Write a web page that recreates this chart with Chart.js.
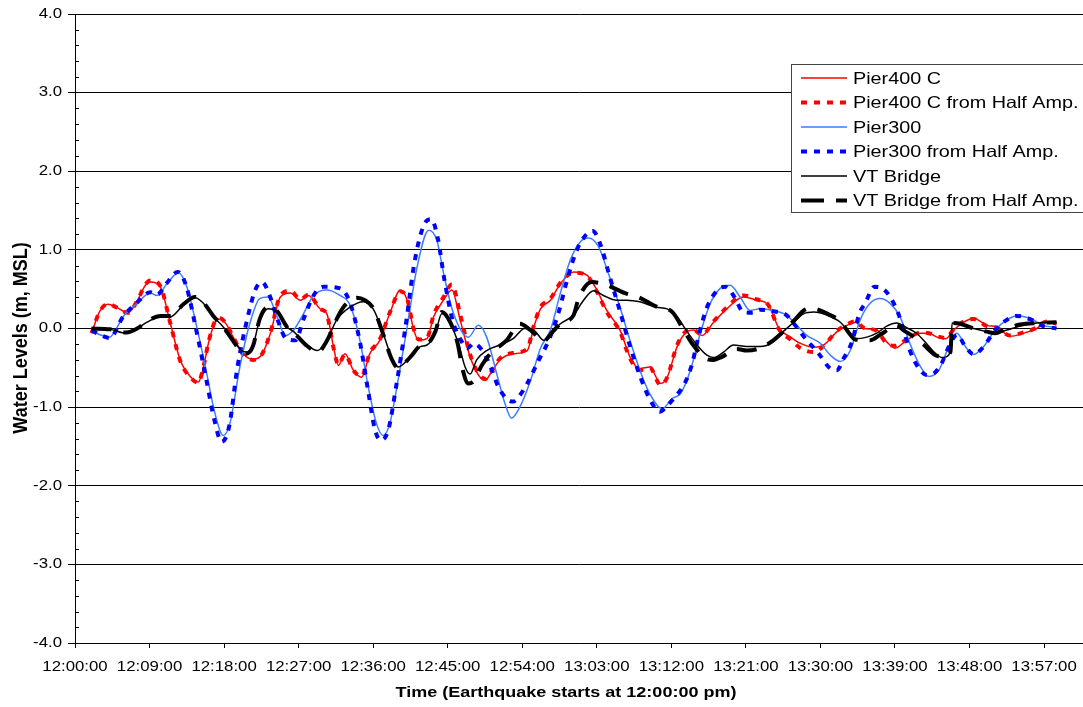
<!DOCTYPE html>
<html><head><meta charset="utf-8">
<script src="https://cdn.jsdelivr.net/npm/chart.js@4.4.1/dist/chart.umd.min.js"></script>
<style>html,body{margin:0;padding:0;background:#fff}#wrap{width:1083px;height:707px;position:relative}</style>
</head><body><div id="wrap"><canvas id="c" width="1083" height="707"></canvas></div>
<script>
// ---- data (minutes after 12:00:00, water level m MSL) ----
const pier400Time = [2.0,3.0,4.0,5.0,6.4, 7.5,8.5,9.1,10.3,11.5, 12.7,14.0,14.9,15.3,16.2, 16.9,17.5,18.3,19.1,20.3, 21.5,22.5,23.6,24.8,26.0, 27.2,28.2,29.6,30.4,31.2, 31.8,32.6,33.6,34.6,35.6, 36.8,38.0,39.3,40.1,40.9, 41.5,42.5,43.3,44.5,45.5, 46.5,47.7,48.7,49.5,50.3, 51.3,52.9,54.6,55.4,56.2, 57.4,58.6,60.2,61.8,63.0, 64.2,65.8,67.0,68.2,69.4, 70.7,71.5,72.7,73.9,74.7, 75.7,77.1,78.7,80.7,82.3, 83.7,85.0,86.4,87.6,89.2, 90.4,92.0,93.2,94.2,95.2, 96.8,98.0,99.0,100.4,102.1, 103.1,104.1,105.1,106.1,107.3, 108.5,110.1,111.3,112.9,114.5, 116.1,117.3,118.5];
const pier400Level = [-0.06,0.22,0.31,0.27,0.20, 0.35,0.55,0.59,0.53,0.07, -0.40,-0.62,-0.68,-0.58,-0.15, 0.08,0.12,0.05,-0.11,-0.32, -0.39,-0.34,-0.06,0.40,0.45, 0.36,0.42,0.25,0.19,-0.23, -0.47,-0.32,-0.53,-0.62,-0.32, -0.15,0.19,0.49,0.36,-0.02, -0.15,-0.13,0.15,0.36,0.49, 0.11,-0.36,-0.59,-0.66,-0.55, -0.40,-0.32,-0.28,0.02,0.25, 0.36,0.57,0.72,0.68,0.49, 0.23,-0.02,-0.36,-0.51,-0.49, -0.70,-0.62,-0.23,-0.04,-0.02, -0.09,0.08,0.25,0.40,0.36, 0.30,0.00,-0.11,-0.19,-0.24, -0.21,-0.04,0.04,0.08,0.00, -0.02,-0.17,-0.25,-0.15,-0.06, -0.06,-0.11,-0.13,-0.02,0.08, 0.13,0.04,0.02,-0.10,-0.06, 0.00,0.08,0.05];
const pier400HalfLevel = [-0.06,0.22,0.31,0.27,0.20, 0.35,0.56,0.61,0.54,0.07, -0.41,-0.63,-0.69,-0.58,-0.14, 0.09,0.13,0.05,-0.11,-0.33, -0.40,-0.34,-0.05,0.42,0.48, 0.37,0.43,0.25,0.18,-0.24, -0.46,-0.33,-0.53,-0.61,-0.31, -0.14,0.20,0.47,0.38,-0.01, -0.14,-0.12,0.17,0.40,0.56, 0.18,-0.33,-0.57,-0.64,-0.54, -0.38,-0.31,-0.26,0.04,0.27, 0.38,0.58,0.71,0.67,0.47, 0.21,-0.04,-0.38,-0.53,-0.50, -0.72,-0.62,-0.21,-0.03,-0.02, -0.08,0.09,0.27,0.42,0.37, 0.30,-0.01,-0.14,-0.25,-0.30, -0.22,-0.03,0.05,0.09,0.01, -0.03,-0.19,-0.22,-0.14,-0.05, -0.06,-0.10,-0.12,-0.01,0.09, 0.12,0.03,0.01,-0.09,-0.05, 0.01,0.09,0.06];

const pier300Time = [2.0,3.0,4.2,5.0,5.8, 7.5,9.1,9.9,11.1,12.5, 13.5,14.7,15.9,16.9,17.9, 18.7,19.9,21.1,22.3,23.3, 24.4,25.4,26.4,27.6,28.8, 30.4,32.0,33.2,34.4,35.4, 36.4,37.2,38.0,39.0,40.1, 41.3,42.7,43.7,44.5,45.7, 47.5,48.7,49.7,50.9,51.9, 52.7,53.7,55.0,56.2,57.4, 58.6,59.8,61.0,62.0,63.2, 64.4,65.8,67.0,68.2,69.4, 70.9,72.1,73.1,74.3,75.5, 76.7,77.9,79.1,80.3,81.5, 82.7,84.3,85.9,86.8,88.4, 90.0,91.2,92.4,93.6,94.8, 96.0,97.2,98.4,99.6,100.8, 102.1,103.1,104.3,105.5,106.5, 107.5,108.5,109.7,111.1,112.5, 113.7,115.3,116.9,118.5];
const pier300Level = [-0.02,-0.08,-0.11,0.00,0.15, 0.32,0.45,0.42,0.57,0.71, 0.53,0.02,-0.57,-1.08,-1.36, -1.21,-0.49,0.06,0.38,0.40, 0.15,-0.09,-0.02,0.19,0.42, 0.49,0.42,0.30,-0.15,-0.74, -1.21,-1.36,-1.21,-0.66,0.02, 0.78,1.25,1.12,0.70,0.19, -0.11,0.04,-0.11,-0.57,-0.95, -1.14,-1.00,-0.66,-0.25,-0.02, 0.45,0.87,1.10,1.15,1.04, 0.70,0.27,-0.15,-0.53,-0.83, -1.02,-0.89,-0.83,-0.53,-0.06, 0.32,0.51,0.55,0.40,0.23, 0.25,0.23,0.17,0.08,-0.09, -0.19,-0.34,-0.42,-0.28,0.11, 0.32,0.38,0.32,0.15,-0.19, -0.49,-0.61,-0.53,-0.23,-0.06, -0.23,-0.33,-0.23,-0.02,0.11, 0.16,0.13,0.04,0.01];

const pier300HalfTime = [2.0,3.0,4.2,5.8,7.5, 9.1,9.9,11.1,12.4,13.4, 14.6,15.8,16.8,17.7,18.6, 19.6,20.8,21.8,22.6,23.5, 24.5,25.5,26.6,27.6,28.8, 30.0,32.0,33.2,34.4,35.4, 36.2,36.9,37.8,38.8,39.9, 41.0,42.1,43.0,43.8,44.6, 45.6,46.6,47.4,48.1,49.3, 50.3,51.1,52.2,52.9,53.7, 54.6,56.0,57.2,58.4,59.5, 60.6,61.6,62.5,63.5,64.5, 65.8,67.0,68.2,69.5,70.6, 71.5,72.3,73.7,74.5,75.4, 76.3,77.7,78.5,79.5,80.7, 81.8,82.7,84.3,85.9,86.8, 88.2,89.8,91.2,92.0,92.8, 93.8,94.7,95.4,96.5,97.3, 98.3,99.4,100.8,101.9,102.8, 103.7,104.6,105.5,106.5,107.5, 108.5,109.7,111.1,112.5,113.7, 115.3,116.9,118.5];
const pier300HalfLevel = [-0.02,-0.08,-0.12,0.15,0.33, 0.46,0.43,0.58,0.72,0.55, 0.00,-0.62,-1.15,-1.44,-1.25, -0.50,0.12,0.50,0.59,0.42, 0.10,-0.13,-0.15,0.12,0.42, 0.53,0.51,0.33,-0.17,-0.80, -1.28,-1.42,-1.30,-0.72,0.02, 0.85,1.31,1.39,1.15,0.62, 0.10,-0.15,-0.25,-0.19,-0.30, -0.52,-0.74,-0.90,-0.93,-0.85, -0.70,-0.40,-0.15,0.21,0.65, 1.00,1.18,1.24,1.05,0.68, 0.22,-0.22,-0.60,-0.92,-1.06, -0.98,-0.89,-0.68,-0.45,-0.05, 0.27,0.50,0.53,0.42,0.21, 0.20,0.24,0.22,0.17,0.06, -0.13,-0.32,-0.51,-0.53,-0.38, -0.17,0.19,0.32,0.53,0.52, 0.42,0.19,-0.28,-0.51,-0.59, -0.57,-0.45,-0.23,-0.08,-0.23, -0.33,-0.23,-0.02,0.11,0.16, 0.12,0.03,0.00];

const vtTime = [2.0,4.2,6.2,7.5,8.7, 10.3,11.5,13.1,14.5,15.5, 16.7,17.9,19.1,20.1,20.7, 21.5,22.3,23.3,24.4,25.6, 26.4,28.0,29.3,30.4,31.6, 33.2,34.8,36.0,37.2,38.2, 39.0,40.5,41.7,42.5,43.5, 44.3,45.3,46.3,47.1,47.7, 48.5,49.7,51.3,52.9,54.3, 55.4,56.6,57.6,58.6,60.2, 61.4,62.6,63.8,65.4,66.6, 68.2,70.2,71.5,72.7,73.9, 75.1,76.3,77.1,78.3,79.5, 81.1,82.7,84.3,85.3,86.8, 88.0,89.2,90.8,92.4,93.4, 94.2,95.6,96.8,98.0,99.2, 100.4,101.6,102.8,103.9,104.7, 105.7,105.9,106.9,108.5,110.1, 111.1,112.5,114.1,116.1,118.5];
const vtLevel = [0.00,-0.01,-0.06,0.00,0.08, 0.15,0.15,0.30,0.39,0.32, 0.15,0.02,-0.15,-0.28,-0.30, -0.21,0.11,0.25,0.21,0.02, -0.04,-0.21,-0.28,-0.15,0.11, 0.27,0.34,0.25,-0.06,-0.36, -0.49,-0.36,-0.23,-0.21,-0.06, 0.19,0.06,-0.19,-0.49,-0.58, -0.40,-0.28,-0.21,-0.13,0.00, -0.02,-0.15,-0.05,0.06,0.17, 0.36,0.48,0.42,0.36,0.36, 0.34,0.27,0.25,0.15,-0.04, -0.21,-0.34,-0.37,-0.30,-0.21, -0.23,-0.23,-0.17,-0.06,0.08, 0.19,0.21,0.17,0.08,-0.04, -0.13,-0.11,-0.06,0.03,0.07, 0.01,-0.06,-0.19,-0.32,-0.37, -0.30,0.07,0.05,0.00,-0.04, -0.06,-0.02,0.03,0.07,0.08];

const vtHalfTime = [2.0,4.2,6.2,7.5,8.7, 10.3,11.5,13.1,14.5,15.5, 16.7,17.9,19.1,20.1,20.7, 21.5,22.3,23.3,24.4,25.6, 26.4,28.0,29.3,30.4,31.6, 32.4,34.0,35.0,36.0,37.2, 38.2,39.0,40.5,41.7,42.5, 43.5,44.3,45.3,46.2,46.8, 47.5,48.2,49.1,50.5,51.3, 52.1,53.7,55.0,56.6,57.6, 58.6,60.2,60.8,62.4,64.0, 66.4,68.0,70.4,71.5,72.2, 73.6,74.5,76.3,77.1,78.1, 79.9,81.1,82.7,84.3,85.5, 86.8,88.0,88.8,90.8,92.4, 93.4,94.2,96.0,97.2,98.4, 99.2,100.0,101.2,102.3,103.9, 104.7,105.7,105.9,106.9,108.5, 110.1,111.1,112.5,114.1,116.1, 118.5];
const vtHalfLevel = [0.00,-0.01,-0.05,0.00,0.09, 0.16,0.16,0.31,0.40,0.33, 0.16,0.02,-0.16,-0.30,-0.32, -0.22,0.12,0.27,0.22,0.02, -0.05,-0.22,-0.30,-0.16,0.12, 0.27,0.39,0.36,0.26,-0.07, -0.38,-0.50,-0.36,-0.22,-0.20, -0.04,0.21,0.08,-0.19,-0.52, -0.70,-0.66,-0.47,-0.28,-0.22, -0.15,0.06,-0.02,-0.16,-0.05, 0.06,0.17,0.38,0.59,0.56, 0.45,0.40,0.27,0.25,0.20, -0.04,-0.19,-0.39,-0.40,-0.36, -0.26,-0.28,-0.25,-0.15,-0.04, 0.10,0.23,0.26,0.19,0.09, -0.05,-0.14,-0.15,-0.08,0.00, 0.04,-0.02,-0.10,-0.19,-0.34, -0.36,-0.30,0.07,0.06,0.00, -0.04,-0.06,0.00,0.05,0.07, 0.08];

const seriesNames = ['Pier400 C','Pier400 C from Half Amp.','Pier300','Pier300 from Half Amp.','VT Bridge','VT Bridge from Half Amp.'];
const xTickMinutes = [0,9,18,27,36,45,54,63,72,81,90,99,108,117];
const xTickLabels = ['12:00:00','12:09:00','12:18:00','12:27:00','12:36:00','12:45:00','12:54:00','13:03:00','13:12:00','13:21:00','13:30:00','13:39:00','13:48:00','13:57:00'];
const yTickValues = [-4,-3,-2,-1,0,1,2,3,4];
const yTickLabels = ['-4.0','-3.0','-2.0','-1.0','0.0','1.0','2.0','3.0','4.0'];
const xTitle = 'Time (Earthquake starts at 12:00:00 pm)';
const yTitle = 'Water Levels (m, MSL)';

// ---- helpers ----
const FONT = '"Liberation Sans", Arial, sans-serif';
const SX = 1.2; // the reference is stretched horizontally
function pts(t, v) { return t.map((x, i) => ({ x: x, y: v[i] })); }
function sText(ctx, text, x, y, align, font) {
  ctx.save();
  ctx.font = font;
  ctx.fillStyle = '#000';
  ctx.textBaseline = 'middle';
  ctx.textAlign = 'left';
  const w = ctx.measureText(text).width * SX;
  let left = x;
  if (align === 'center') left = x - w / 2;
  else if (align === 'right') left = x - w;
  ctx.translate(left, y);
  ctx.scale(SX, 1);
  ctx.fillText(text, 0, 0);
  ctx.restore();
}

const textPlugin = {
  id: 'textPlugin',
  afterDraw(chart) {
    const ctx = chart.ctx;
    const xs = chart.scales.x, ys = chart.scales.y;
    const area = chart.chartArea;
    // minor ticks on y axis (inside)
    ctx.save();
    ctx.strokeStyle = '#000'; ctx.lineWidth = 1;
    for (let k = -20; k <= 20; k++) {
      if (k % 5 === 0) continue;
      const y = Math.round(ys.getPixelForValue(k / 5)) + 0.5;
      ctx.beginPath(); ctx.moveTo(area.left, y); ctx.lineTo(area.left + 4, y); ctx.stroke();
    }
    ctx.restore();
    // y tick labels
    yTickValues.forEach((v, i) => sText(ctx, yTickLabels[i], 62, ys.getPixelForValue(v), 'right', '14px ' + FONT));
    // x tick labels
    xTickMinutes.forEach((v, i) => sText(ctx, xTickLabels[i], xs.getPixelForValue(v), 667, 'center', '14px ' + FONT));
    // axis titles
    sText(ctx, xTitle, 566, 693, 'center', 'bold 15px ' + FONT);
    ctx.save();
    ctx.translate(22, 338);
    ctx.scale(1.1, 1);
    ctx.rotate(-Math.PI / 2);
    ctx.font = 'bold 18px ' + FONT;
    ctx.fillStyle = '#000';
    ctx.textAlign = 'center'; ctx.textBaseline = 'middle';
    ctx.fillText(yTitle, 0, 0);
    ctx.restore();
    // legend
    ctx.save();
    ctx.fillStyle = '#fff';
    ctx.fillRect(791, 64, 300, 148);
    ctx.strokeStyle = '#444'; ctx.lineWidth = 1;
    ctx.strokeRect(791.5, 64.5, 300, 148);
    ctx.restore();
    const rowY = [78, 102.5, 127, 151.5, 176, 200.5];
    chart.data.datasets.forEach((ds, i) => {
      ctx.save();
      ctx.strokeStyle = ds.borderColor;
      ctx.lineWidth = ds.borderWidth;
      ctx.setLineDash(ds.legendDash || []);
      ctx.beginPath(); ctx.moveTo(801, rowY[i]); ctx.lineTo(847, rowY[i]); ctx.stroke();
      ctx.restore();
      sText(ctx, ds.label, 853, rowY[i] + 1, 'left', '16.5px ' + FONT);
    });
  }
};

const common = { pointRadius: 0, pointHoverRadius: 0, fill: false, cubicInterpolationMode: 'monotone', borderCapStyle: 'butt', borderJoinStyle: 'round' };

new Chart(document.getElementById('c'), {
  type: 'line',
  data: {
    datasets: [
      Object.assign({ label: seriesNames[0], data: pts(pier400Time, pier400Level), borderColor: '#FF0000', borderWidth: 1.5, order: 5 }, common),
      Object.assign({ label: seriesNames[1], data: pts(pier400Time, pier400HalfLevel), borderColor: '#FF0000', borderWidth: 4, borderDash: [6, 7], legendDash: [6, 7], order: 4 }, common),
      Object.assign({ label: seriesNames[2], data: pts(pier300Time, pier300Level), borderColor: '#3D7BFF', borderWidth: 1.5, order: 3 }, common),
      Object.assign({ label: seriesNames[3], data: pts(pier300HalfTime, pier300HalfLevel), borderColor: '#0000FF', borderWidth: 4, borderDash: [6, 7], legendDash: [6, 7], order: 2 }, common),
      Object.assign({ label: seriesNames[4], data: pts(vtTime, vtLevel), borderColor: '#000000', borderWidth: 1.5, order: 1 }, common),
      Object.assign({ label: seriesNames[5], data: pts(vtHalfTime, vtHalfLevel), borderColor: '#000000', borderWidth: 4, borderDash: [20, 12], legendDash: [23, 12], order: 0 }, common)
    ]
  },
  options: {
    responsive: false,
    animation: false,
    devicePixelRatio: 1,
    layout: { padding: { left: 0, right: 0, top: 14, bottom: 0 } },
    plugins: { legend: { display: false }, tooltip: { enabled: false } },
    scales: {
      x: {
        type: 'linear', min: 0, max: 121.7,
        afterBuildTicks: (s) => { s.ticks = xTickMinutes.map(v => ({ value: v })); },
        afterFit: (s) => { s.height = 64; },
        ticks: { display: false },
        grid: { drawOnChartArea: false, drawTicks: true, tickLength: 5, color: '#000', lineWidth: 1 },
        border: { display: true, color: '#000', width: 1 }
      },
      y: {
        type: 'linear', min: -4, max: 4,
        afterBuildTicks: (s) => { s.ticks = yTickValues.map(v => ({ value: v })); },
        afterFit: (s) => { s.width = 75; },
        ticks: { display: false },
        grid: { drawOnChartArea: true, drawTicks: true, tickLength: 7, color: '#000', lineWidth: 1 },
        border: { display: true, color: '#000', width: 1 }
      }
    }
  },
  plugins: [textPlugin]
});
</script>
</body></html>
